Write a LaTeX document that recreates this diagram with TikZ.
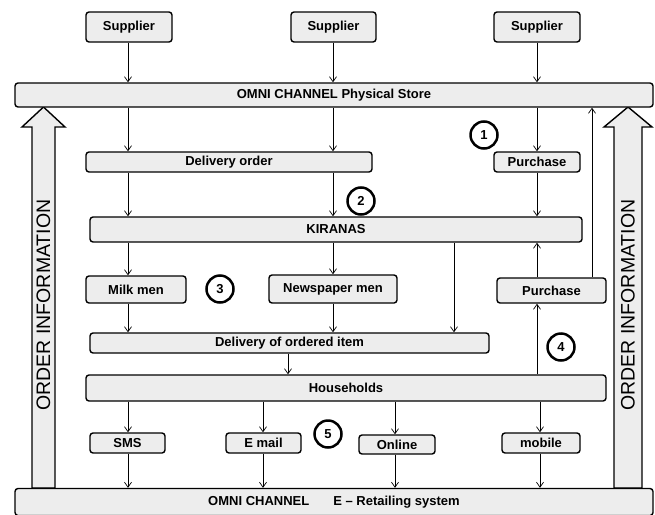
\documentclass[tikz,border=0pt]{standalone}
\usepackage{fontspec}
\setmainfont{Liberation Sans}
\usetikzlibrary{arrows.meta}
\begin{document}
\begin{tikzpicture}[x=1pt,y=-1pt,
  box/.style={draw=black,line width=1.4pt,rounded corners=3pt,fill=black!7,inner sep=0pt,
    font=\fontsize{13}{14}\selectfont\bfseries},
  num/.style={draw=black,line width=2.5pt,circle,fill=white,minimum size=27pt,inner sep=0pt,
    font=\fontsize{13}{14}\selectfont\bfseries},
  arr/.style={line width=0.7pt,-{Straight Barb[length=5pt,width=7pt]}},
  big/.style={draw=black,line width=1.4pt,fill=black!7},
  bigtxt/.style={rotate=90,font=\fontsize{19.5}{22}\selectfont}]
\useasboundingbox (0,0) rectangle (655,514);
% big hollow arrows
\path[big] (32,488) -- (32,127) -- (22,127) -- (43.5,107) -- (65,127) -- (55,127) -- (55,488) -- cycle;
\path[big] (614,488) -- (614,127) -- (604,127) -- (628,107) -- (652,127) -- (642,127) -- (642,488) -- cycle;
\node[bigtxt] (oil) at (43.5,305) {ORDER INFORMATION};
\node[bigtxt] (oir) at (628,305) {ORDER INFORMATION};
% boxes
\node[box,minimum width=86pt,minimum height=30pt] (sup1) at (129,27) {Supplier};
\node[box,minimum width=85pt,minimum height=30pt] (sup2) at (333.5,27) {Supplier};
\node[box,minimum width=86pt,minimum height=30pt] (sup3) at (537,27) {Supplier};
\node[box,minimum width=638pt,minimum height=24pt] (store) at (334,95) {OMNI CHANNEL Physical Store};
\node[box,minimum width=286pt,minimum height=20pt] (delord) at (229,162) {Delivery order};
\node[box,minimum width=86pt,minimum height=20pt] (purch1) at (537,162) {Purchase};
\node[box,minimum width=492pt,minimum height=25pt] (kiranas) at (336,229.5) {KIRANAS};
\node[box,minimum width=100pt,minimum height=27pt] (milk) at (136,289.5) {Milk men};
\node[box,minimum width=128pt,minimum height=28pt] (news) at (333,289) {Newspaper men};
\node[box,minimum width=109pt,minimum height=25pt] (purch2) at (551.5,290.5) {Purchase};
\node[box,minimum width=399pt,minimum height=20pt] (delitem) at (289.5,343) {Delivery of ordered item};
\node[box,minimum width=520pt,minimum height=26pt] (house) at (346,388) {Households};
\node[box,minimum width=75pt,minimum height=20pt] (sms) at (127.5,443) {SMS};
\node[box,minimum width=75pt,minimum height=20pt] (email) at (263.5,443) {E mail};
\node[box,minimum width=76pt,minimum height=19pt] (online) at (397,444.5) {Online};
\node[box,minimum width=78pt,minimum height=20pt] (mobile) at (541,443) {mobile};
\node[box,minimum width=638pt,minimum height=27pt] (eret) at (334,502) {OMNI CHANNEL\hspace{24pt}E -- Retailing system};
% number circles
\node[num] (n1) at (484,135) {1};
\node[num] (n2) at (361,201) {2};
\node[num] (n3) at (220,289) {3};
\node[num] (n4) at (561,347) {4};
\node[num] (n5) at (328,434) {5};
% x positions
\coordinate (xa) at (128,0);
\coordinate (xb) at (333,0);
\coordinate (xc) at (537,0);
\coordinate (xd) at (454,0);
\coordinate (xe) at (592,0);
\coordinate (xf) at (288,0);
\coordinate (xg) at (263,0);
\coordinate (xh) at (395,0);
\coordinate (xi) at (540,0);
% connectors
\draw[arr] (sup1.south -| xa) -- (store.north -| xa);
\draw[arr] (sup2.south -| xb) -- (store.north -| xb);
\draw[arr] (sup3.south -| xc) -- (store.north -| xc);
\draw[arr] (store.south -| xa) -- (delord.north -| xa);
\draw[arr] (store.south -| xb) -- (delord.north -| xb);
\draw[arr] (store.south -| xc) -- (purch1.north -| xc);
\draw[arr] (delord.south -| xa) -- (kiranas.north -| xa);
\draw[arr] (delord.south -| xb) -- (kiranas.north -| xb);
\draw[arr] (purch1.south -| xc) -- (kiranas.north -| xc);
\draw[arr] (kiranas.south -| xa) -- (milk.north -| xa);
\draw[arr] (kiranas.south -| xb) -- (news.north -| xb);
\draw[arr] (kiranas.south -| xd) -- (delitem.north -| xd);
\draw[arr] (purch2.north -| xc) -- (kiranas.south -| xc);
\draw[arr] (purch2.north -| xe) -- (store.south -| xe);
\draw[arr] (milk.south -| xa) -- (delitem.north -| xa);
\draw[arr] (news.south -| xb) -- (delitem.north -| xb);
\draw[arr] (delitem.south -| xf) -- (house.north -| xf);
\draw[arr] (house.north -| xc) -- (purch2.south -| xc);
\draw[arr] (house.south -| xa) -- (sms.north -| xa);
\draw[arr] (house.south -| xg) -- (email.north -| xg);
\draw[arr] (house.south -| xh) -- (online.north -| xh);
\draw[arr] (house.south -| xi) -- (mobile.north -| xi);
\draw[arr] (sms.south -| xa) -- (eret.north -| xa);
\draw[arr] (email.south -| xg) -- (eret.north -| xg);
\draw[arr] (online.south -| xh) -- (eret.north -| xh);
\draw[arr] (mobile.south -| xi) -- (eret.north -| xi);
\end{tikzpicture}
\end{document}
